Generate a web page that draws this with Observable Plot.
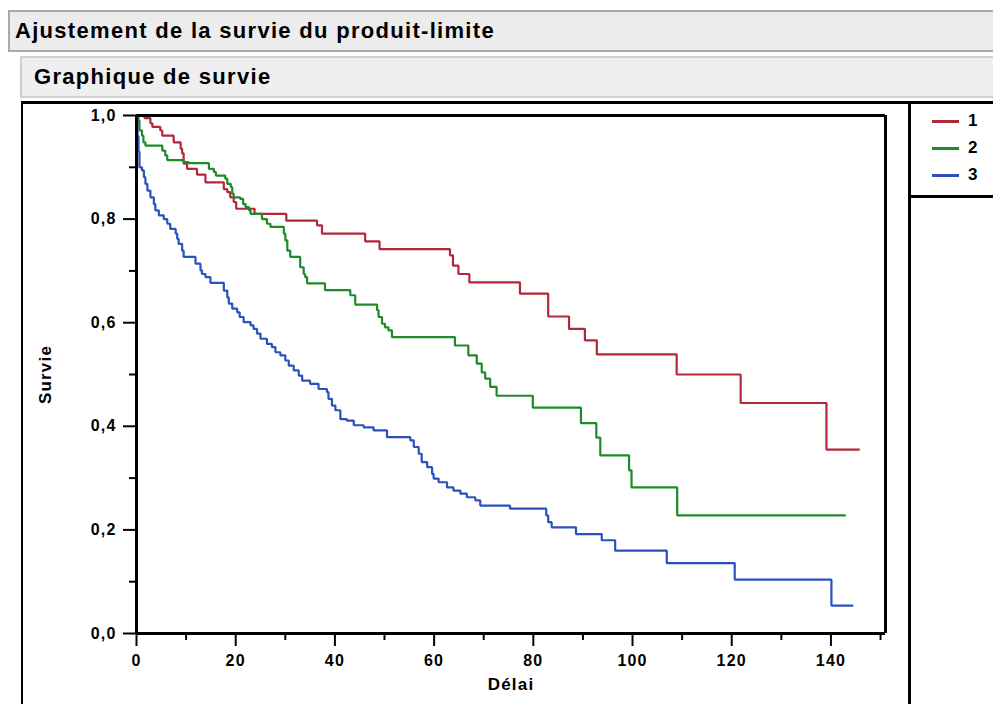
<!DOCTYPE html>
<html><head><meta charset="utf-8">
<script src="https://cdn.jsdelivr.net/npm/d3@7"></script>
<script src="https://cdn.jsdelivr.net/npm/@observablehq/plot@0.6"></script>
<style>
html,body{margin:0;padding:0;background:#fff}
body{width:993px;height:704px;overflow:hidden;position:relative;font-family:"Liberation Sans",Arial,sans-serif;font-weight:bold;color:#000}
#bar1{position:absolute;left:8px;top:10px;width:990px;height:38px;background:#ececec;border:2px solid #a9a9a9;border-right:none;box-sizing:content-box;font-size:22px;letter-spacing:1.3px;line-height:38px;padding-left:5px}
#bar2{position:absolute;left:20px;top:56px;width:980px;height:38px;background:#efefef;border:2px solid #cfcfcf;border-right:none;font-size:22px;letter-spacing:1.3px;line-height:38px;padding-left:12px}
#topline{position:absolute;left:22px;top:101px;width:971px;height:3px;background:#000}
#leftline{position:absolute;left:21px;top:101px;width:2px;height:603px;background:#000}
#legline{position:absolute;left:908px;top:101px;width:3px;height:603px;background:#000}
#leghline{position:absolute;left:908px;top:195px;width:85px;height:3px;background:#000}
#chart{position:absolute;left:0;top:100px}
#chart svg text{letter-spacing:1.2px}
#legend{position:absolute;left:932px;top:110px}
.li{position:absolute;left:0;height:22px;width:60px}
.li .sw{position:absolute;left:0;top:10px;width:27px;height:3px}
.li .lb{position:absolute;left:36px;top:1px;font-size:17px;line-height:20px}
</style></head><body>
<div id="bar1">Ajustement de la survie du produit-limite</div>
<div id="bar2">Graphique de survie</div>
<div id="chart"></div>
<div id="topline"></div>
<div id="leftline"></div>
<div id="legline"></div>
<div id="leghline"></div>
<div id="legend"></div>
<script>
// Groups
const groups = ["1", "2", "3"];
const colors = ["#b0283a", "#1f8a2a", "#2a52bd"];

// Kaplan-Meier steps: time at which survival drops to the given value (last = end of follow-up)
const time1 = [0,1.6,2.8,3.2,4.8,5.2,7.5,8.9,9.2,9.5,10.2,12.2,13.9,17.6,18.3,18.9,19.6,20.1,23.8,30.2,36.4,37.4,46.1,49,63.2,63.8,64.9,67.1,77.3,83,87.2,90.4,92.8,108.9,121.8,139.1,145.8];
const surv1 = [1,0.995,0.985,0.978,0.971,0.961,0.948,0.936,0.927,0.907,0.897,0.886,0.871,0.858,0.852,0.842,0.833,0.82,0.81,0.797,0.788,0.772,0.757,0.742,0.73,0.71,0.694,0.678,0.656,0.612,0.588,0.566,0.539,0.5,0.445,0.355,0.355];

const time2 = [0,0.4,0.6,1.1,1.4,1.8,5.2,5.8,6.2,9.5,10.5,14.6,15.6,16,17.9,18.3,19,19.3,19.6,20.9,21.5,22,22.7,23,25.3,26.3,27,29.7,30,30.4,31,33,33.7,34,34.4,38,43.1,44.1,48.5,48.8,49.5,50.1,50.8,51.5,64.2,66.9,68.6,69.6,70.3,71.3,72.6,79.9,89.6,92.7,93.5,99.3,99.8,109,143];
const surv2 = [1,0.99,0.971,0.961,0.948,0.942,0.932,0.923,0.914,0.91,0.908,0.897,0.891,0.884,0.878,0.868,0.862,0.849,0.842,0.839,0.829,0.823,0.817,0.81,0.8,0.791,0.785,0.772,0.759,0.739,0.727,0.707,0.694,0.688,0.676,0.663,0.653,0.635,0.624,0.611,0.598,0.591,0.585,0.572,0.556,0.537,0.521,0.504,0.492,0.476,0.459,0.436,0.406,0.378,0.344,0.315,0.282,0.228,0.228];

const time3 = [0,0.2,0.4,0.6,1.1,1.5,1.8,2.2,2.8,3.5,3.8,4.5,5.5,6.2,6.8,7.9,8.2,8.5,9.2,9.5,11.9,12.9,13.2,13.9,14.9,17.6,18.3,18.6,19.3,20.3,20.8,21.6,23,23.6,24.3,25,26.3,27.3,28,29,30,30.7,31.7,32.7,33.4,35,36.7,38.4,38.7,39.4,40.1,41.1,42.4,43.8,45.8,47.8,50.5,55.2,55.9,56.9,57.5,58.6,59.6,59.9,60.9,62.6,63.9,65.3,66.6,68.3,69.3,75.3,82.6,83,83.7,88.6,93.8,96.5,106.9,120.6,140.1,144.5];
const surv3 = [1,0.96,0.93,0.9,0.894,0.881,0.868,0.855,0.842,0.829,0.817,0.807,0.8,0.791,0.781,0.772,0.762,0.752,0.739,0.727,0.714,0.701,0.694,0.688,0.677,0.662,0.649,0.637,0.627,0.62,0.611,0.601,0.595,0.588,0.579,0.569,0.559,0.553,0.543,0.537,0.527,0.517,0.508,0.498,0.488,0.482,0.472,0.466,0.453,0.44,0.431,0.414,0.411,0.402,0.398,0.392,0.379,0.373,0.36,0.347,0.331,0.321,0.308,0.299,0.292,0.282,0.276,0.27,0.263,0.257,0.247,0.241,0.228,0.215,0.205,0.192,0.18,0.16,0.136,0.104,0.054,0.054];

const yMajor = [0, 0.2, 0.4, 0.6, 0.8, 1.0];
const yMinor = [0.1, 0.3, 0.5, 0.7, 0.9];
const xMajor = [0, 20, 40, 60, 80, 100, 120, 140];
const xMinor = [10, 30, 50, 70, 90, 110, 130, 150];
const xLabel = "Délai";
const yLabel = "Survie";

const series = [[time1, surv1], [time2, surv2], [time3, surv3]];
const rows = [];
series.forEach(([ts, ss], i) => ts.forEach((t, j) => rows.push({t, s: ss[j], g: groups[i]})));

const fmt = d3.format(".1f");
const comma = d => fmt(d).replace(".", ",");

const plot = Plot.plot({
  width: 908,
  height: 604,
  marginLeft: 136,
  marginRight: 23,
  marginTop: 15,
  marginBottom: 71,
  style: {fontFamily: '"Liberation Sans", Arial, sans-serif', fontWeight: "bold", fontSize: "16px", color: "#000", background: "transparent"},
  x: {domain: [0, 151], label: null},
  y: {domain: [0, 1], label: null},
  color: {domain: groups, range: colors},
  marks: [
    Plot.axisY({ticks: yMajor, tickSize: 13, tickPadding: 7, tickFormat: comma, strokeWidth: 2, label: null, fontSize: 16}),
    Plot.axisY({ticks: yMinor, tickSize: 7, tickFormat: () => "", strokeWidth: 2, label: null}),
    Plot.axisX({ticks: xMajor, tickSize: 13, tickPadding: 8, tickFormat: d3.format("d"), strokeWidth: 2, label: null, fontSize: 16}),
    Plot.axisX({ticks: xMinor, tickSize: 7, tickFormat: () => "", strokeWidth: 2, label: null}),
    Plot.line(rows, {x: "t", y: "s", z: "g", stroke: "g", curve: "step-after", strokeWidth: 2.2, strokeLinejoin: "miter", strokeLinecap: "butt"}),
    Plot.ruleX([0], {stroke: "#000", strokeWidth: 3}),
    Plot.ruleY([0], {stroke: "#000", strokeWidth: 3}),
    Plot.ruleY([1], {stroke: "#000", strokeWidth: 3}),
    Plot.ruleX([151], {stroke: "#000", strokeWidth: 3}),
    Plot.text([xLabel], {frameAnchor: "bottom", dy: 56, fontSize: 17, fontWeight: "bold", fill: "#000"}),
    Plot.text([yLabel], {frameAnchor: "left", dx: -91, rotate: -90, textAnchor: "middle", fontSize: 17, fontWeight: "bold", fill: "#000"})
  ]
});
document.getElementById("chart").appendChild(plot);

const leg = document.getElementById("legend");
groups.forEach((g, i) => {
  const it = document.createElement("div");
  it.className = "li";
  it.style.top = (i * 27) + "px";
  it.innerHTML = `<div class="sw" style="background:${colors[i]}"></div><div class="lb">${g}</div>`;
  leg.appendChild(it);
});
</script>
</body></html>
